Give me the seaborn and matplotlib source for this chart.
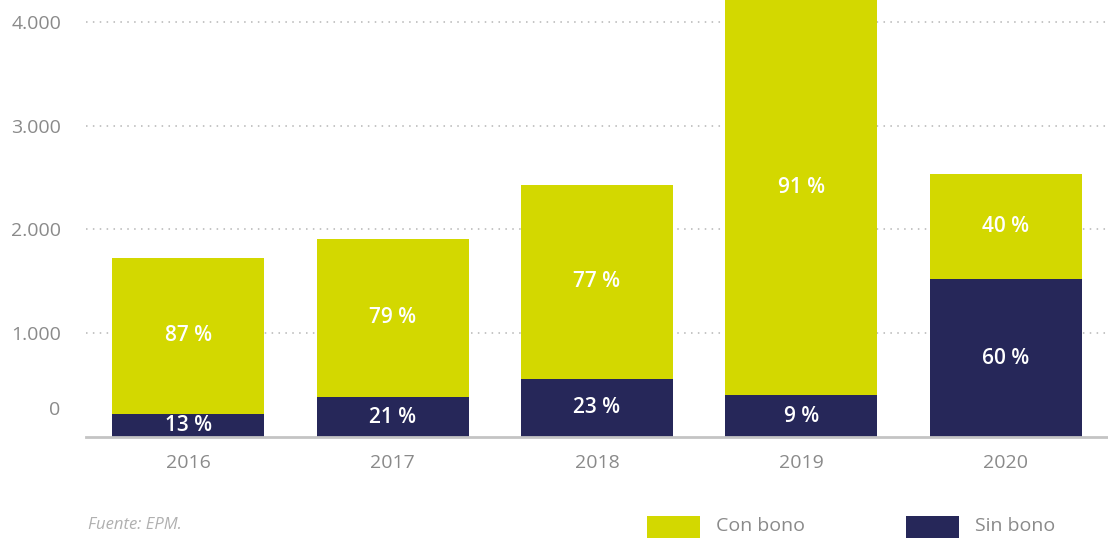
import matplotlib
matplotlib.use("Agg")
import matplotlib.pyplot as plt
from matplotlib.patches import Rectangle
import seaborn as sns
import pandas as pd

# Data
years = ["2016", "2017", "2018", "2019", "2020"]
sin_bono = [225, 385, 560, 400, 1520]
con_bono = [1500, 1525, 1870, 4000, 1015]
pct_sin = [13, 21, 23, 9, 60]
pct_con = [87, 79, 77, 91, 40]
y_ticks = [1000, 2000, 3000, 4000]
y_tick_labels = ["1.000", "2.000", "3.000", "4.000"]

GREEN = "#D3D800"
NAVY = "#262759"
GRAY = "#8a8a8a"

sns.set_theme(style="white")
plt.rcParams["font.family"] = ["Open Sans", "DejaVu Sans"]

df = pd.DataFrame({
    "year": years,
    "sin": sin_bono,
    "con": con_bono,
})
df["total"] = df["sin"] + df["con"]

fig = plt.figure(figsize=(11.08, 5.41), dpi=100)
ax = fig.add_axes([86 / 1108, 1 - 437 / 541, 1 - 86 / 1108, 437 / 541])

# Stacked bars: full height in green, lower segment in navy on top
sns.barplot(data=df, x="year", y="total", color=GREEN, width=0.743,
            saturation=1, linewidth=0, ax=ax, zorder=2)
sns.barplot(data=df, x="year", y="sin", color=NAVY, width=0.743,
            saturation=1, linewidth=0, ax=ax, zorder=3)

ax.set_xlim(-0.5, 4.5)
ax.set_ylim(0, 4212)

# Dotted grid
for v in y_ticks:
    ax.axhline(v, color="#b5b5b5", linestyle=(0, (1, 3.5)), linewidth=1.1, zorder=1)

ax.set_yticks(y_ticks)
ax.set_yticklabels(y_tick_labels)
ax.tick_params(axis="y", length=0, pad=18, labelsize=14, labelcolor=GRAY)
ax.tick_params(axis="x", length=0, pad=12, labelsize=14, labelcolor=GRAY)
ax.text(-0.0254, 260, "0", transform=ax.get_yaxis_transform(), ha="right",
        va="center", fontsize=14, color=GRAY)
ax.set_xlabel("")
ax.set_ylabel("")

for s in ["top", "right", "left"]:
    ax.spines[s].set_visible(False)
ax.spines["bottom"].set_color("#c4c4c4")
ax.spines["bottom"].set_linewidth(2)
ax.spines["bottom"].set_zorder(4)

# Percentage labels in the middle of each segment
for i in range(len(years)):
    s = sin_bono[i]
    c = con_bono[i]
    ax.text(i, s / 2, f"{pct_sin[i]} %", ha="center", va="center",
            color="white", fontsize=15, fontweight="semibold", zorder=5)
    ax.text(i, s + c / 2, f"{pct_con[i]} %", ha="center", va="center",
            color="white", fontsize=15, fontweight="semibold", zorder=5)

# Source note
fig.text(88 / 1108, 1 - 525 / 541, "Fuente: EPM.", fontsize=12, style="italic",
         color="#b0b0b0", ha="left", va="center")

# Legend
fig.patches.append(Rectangle((647 / 1108, 1 - 538 / 541), 53 / 1108, 22 / 541,
                             transform=fig.transFigure, facecolor=GREEN,
                             edgecolor="none"))
fig.text(716 / 1108, 1 - 526 / 541, "Con bono", fontsize=14, color=GRAY,
         ha="left", va="center")
fig.patches.append(Rectangle((906 / 1108, 1 - 538 / 541), 53 / 1108, 22 / 541,
                             transform=fig.transFigure, facecolor=NAVY,
                             edgecolor="none"))
fig.text(975 / 1108, 1 - 526 / 541, "Sin bono", fontsize=14, color=GRAY,
         ha="left", va="center")

fig.savefig("out.png", dpi=100)
